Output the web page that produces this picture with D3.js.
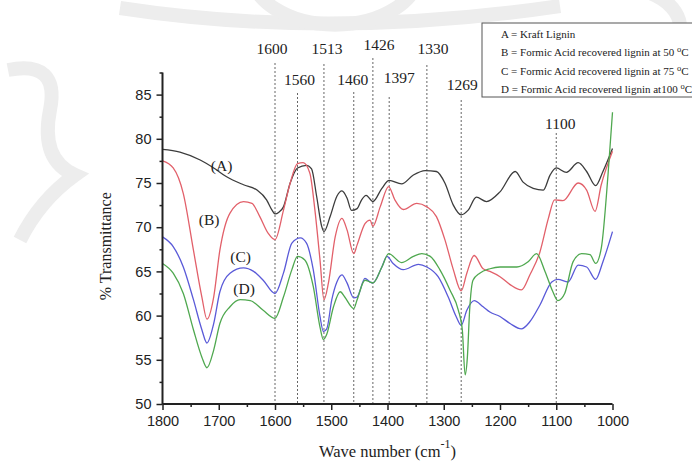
<!DOCTYPE html>
<html>
<head>
<meta charset="utf-8">
<script src="https://cdn.jsdelivr.net/npm/d3@7"></script>
<style>
  body { margin: 0; background: #fff; }
  svg { display: block; }
</style>
</head>
<body>
<div id="chart"></div>
<script>
// FTIR spectra, values: [wave number, % transmittance]
const kraftLignin = [
  [1800, 78.8], [1769, 78.5], [1733, 77.6], [1709, 76.7], [1686, 75.7], [1656, 74.8],
  [1632, 74.2], [1615, 73.1], [1605, 71.9], [1600, 71.5], [1593, 71.7], [1585, 72.3],
  [1573, 75.0], [1560, 76.7], [1544, 77.0], [1535, 76.6], [1526, 73.5], [1517, 70.1],
  [1513, 69.5], [1502, 71.2], [1490, 73.5], [1481, 74.1], [1472, 73.3], [1464, 71.9],
  [1454, 72.1], [1446, 73.1], [1438, 73.6], [1426, 72.9], [1410, 74.4], [1397, 75.3],
  [1375, 74.9], [1354, 75.9], [1333, 76.4], [1313, 76.3], [1298, 75.0], [1283, 72.5],
  [1269, 71.4], [1257, 71.9], [1242, 73.4], [1224, 72.9], [1200, 74.0], [1173, 76.3],
  [1159, 75.1], [1141, 74.4], [1123, 74.2], [1111, 75.9], [1100, 76.7], [1082, 76.2],
  [1061, 77.3], [1046, 76.3], [1030, 74.7], [1017, 76.3], [1000, 78.9]
];
const formic50 = [
  [1800, 77.5], [1781, 76.7], [1763, 73.8], [1745, 67.4], [1730, 62.1], [1721, 59.6],
  [1709, 62.1], [1698, 67.4], [1680, 71.6], [1656, 72.9], [1641, 72.7], [1627, 71.2],
  [1612, 69.3], [1600, 68.6], [1585, 71.9], [1573, 75.0], [1560, 77.2], [1550, 77.3],
  [1538, 76.1], [1529, 71.9], [1520, 66.3], [1513, 61.8], [1505, 63.7], [1493, 68.9],
  [1481, 71.0], [1472, 69.7], [1460, 67.0], [1454, 68.0], [1440, 70.4], [1431, 70.8],
  [1426, 70.1], [1413, 72.3], [1398, 74.6], [1387, 73.1], [1372, 72.0], [1348, 72.7],
  [1330, 72.3], [1313, 71.2], [1298, 68.6], [1283, 65.2], [1269, 62.8], [1259, 64.8],
  [1246, 66.8], [1230, 65.3], [1218, 65.0], [1200, 64.4], [1182, 63.5], [1162, 62.9],
  [1147, 64.6], [1129, 67.2], [1114, 71.0], [1103, 73.1], [1088, 73.0], [1061, 75.0],
  [1046, 74.2], [1031, 71.8], [1020, 74.8], [1000, 78.6]
];
const formic75 = [
  [1800, 68.9], [1781, 67.8], [1763, 65.5], [1745, 61.8], [1730, 58.4], [1721, 56.9],
  [1709, 59.1], [1698, 62.7], [1680, 64.8], [1656, 65.4], [1638, 65.0], [1621, 64.0],
  [1600, 62.5], [1585, 64.8], [1570, 68.2], [1555, 68.8], [1544, 68.2], [1532, 65.2],
  [1520, 59.9], [1514, 58.2], [1508, 58.5], [1499, 61.8], [1490, 63.8], [1481, 64.6],
  [1472, 63.7], [1460, 62.0], [1454, 62.1], [1440, 64.2], [1431, 63.8], [1426, 63.7],
  [1410, 65.5], [1401, 66.7], [1390, 65.9], [1372, 65.2], [1345, 65.8], [1330, 65.5],
  [1310, 64.4], [1292, 62.1], [1278, 59.9], [1269, 58.9], [1259, 60.6], [1246, 61.7],
  [1230, 61.0], [1218, 60.4], [1200, 59.9], [1182, 59.1], [1162, 58.5], [1147, 59.3],
  [1129, 61.2], [1108, 63.8], [1097, 64.1], [1079, 63.8], [1061, 65.7], [1046, 65.5],
  [1030, 64.1], [1017, 66.1], [1000, 69.5]
];
const formic100 = [
  [1800, 65.9], [1781, 64.8], [1763, 62.5], [1745, 58.4], [1730, 55.3], [1721, 54.1],
  [1709, 56.1], [1698, 59.1], [1680, 61.0], [1662, 61.8], [1644, 61.7], [1621, 60.6],
  [1600, 59.7], [1585, 62.1], [1570, 65.2], [1560, 66.7], [1547, 66.3], [1532, 63.3],
  [1520, 58.7], [1514, 57.3], [1508, 57.9], [1496, 61.0], [1484, 62.7], [1476, 62.1],
  [1460, 60.8], [1454, 61.8], [1440, 64.0], [1431, 63.8], [1426, 63.7], [1410, 65.5],
  [1398, 67.0], [1375, 66.0], [1354, 66.7], [1339, 67.0], [1324, 66.7], [1307, 65.2],
  [1289, 62.9], [1274, 60.6], [1267, 58.4], [1262, 53.3], [1258, 55.3], [1254, 60.6],
  [1248, 64.0], [1236, 64.8], [1218, 65.3], [1200, 65.5], [1170, 65.5], [1150, 66.1],
  [1135, 67.0], [1120, 65.0], [1106, 62.7], [1097, 61.7], [1085, 62.5], [1070, 66.1],
  [1055, 67.0], [1040, 66.9], [1030, 65.9], [1020, 67.6], [1008, 75.9], [1000, 83.0]
];

const seriesNames = ['(A)', '(B)', '(C)', '(D)'];
const legendLabels = [
  ['A = Kraft Lignin', null],
  ['B = Formic Acid recovered lignin at 50 ', 'C'],
  ['C = Formic Acid recovered lignin at 75 ', 'C'],
  ['D = Formic Acid recovered lignin at100 ', 'C']
];
const peakBands = [1600, 1560, 1513, 1460, 1426, 1397, 1330, 1269, 1100];
const xTicks = [1800, 1700, 1600, 1500, 1400, 1300, 1200, 1100, 1000];
const yTicks = [50, 55, 60, 65, 70, 75, 80, 85];

const WIDTH = 692;
const HEIGHT = 463;
const COLORS = ['#3c3c3c', '#e2606a', '#5a5ad8', '#4fa84f'];
const SERIF = '"Liberation Serif", "Times New Roman", serif';

const svg = d3.select('#chart').append('svg')
  .attr('width', WIDTH)
  .attr('height', HEIGHT);

// faint watermark behind the figure
const wm = svg.append('g')
  .attr('fill', 'none')
  .attr('stroke', '#ededed')
  .attr('stroke-width', 14);
wm.append('path').attr('d', 'M120,8 Q330,40 560,6');
wm.append('path').attr('d', 'M250,-30 A70,45 0 0,0 420,-30');
wm.append('path').attr('d', 'M8,70 Q60,60 50,110 Q40,160 75,175 Q40,200 20,240');
wm.append('path').attr('d', 'M600,-10 A60,40 0 0,1 680,30');

const x = d3.scaleLinear().domain([1800, 1000]).range([162.5, 612.5]);
const y = d3.scaleLinear().domain([50, 87.5]).range([404, 72.5]);

// peak label layout: where each band label sits (pixel baseline, small horizontal nudge)
const bandLabelLayout = {
  1600: {dy: 54, dx: -3, lineTop: 63},
  1560: {dy: 85, dx: 2, lineTop: 93},
  1513: {dy: 54, dx: 3, lineTop: 64},
  1460: {dy: 85, dx: -1, lineTop: 92},
  1426: {dy: 50, dx: 6, lineTop: 58},
  1397: {dy: 83, dx: 10, lineTop: 97},
  1330: {dy: 54, dx: 6, lineTop: 65},
  1269: {dy: 90, dx: 1, lineTop: 100},
  1100: {dy: 129, dx: 4, lineTop: 133}
};

// dotted band markers
const bands = svg.append('g');
peakBands.forEach(b => {
  const lay = bandLabelLayout[b];
  bands.append('line')
    .attr('x1', x(b)).attr('x2', x(b))
    .attr('y1', lay.lineTop).attr('y2', y(50))
    .attr('stroke', '#666')
    .attr('stroke-width', 1)
    .attr('stroke-dasharray', '2,2');
  bands.append('text')
    .attr('x', x(b) + lay.dx)
    .attr('y', lay.dy)
    .attr('text-anchor', 'middle')
    .attr('font-family', SERIF)
    .attr('font-size', 15.5)
    .attr('fill', '#222')
    .text(b);
});

// spectra
const line = d3.line()
  .x(d => x(d[0]))
  .y(d => y(d[1]))
  .curve(d3.curveMonotoneX);

[kraftLignin, formic50, formic75, formic100].forEach((s, i) => {
  svg.append('path')
    .datum(s)
    .attr('d', line)
    .attr('fill', 'none')
    .attr('stroke', COLORS[i])
    .attr('stroke-width', 1.3)
    .attr('stroke-linejoin', 'round');
});

// series tags placed in data space next to the curves
const tagAnchors = [[1695, 76.4], [1717, 70.3], [1661, 66.1], [1655, 62.4]];
seriesNames.forEach((n, i) => {
  svg.append('text')
    .attr('x', x(tagAnchors[i][0]))
    .attr('y', y(tagAnchors[i][1]))
    .attr('text-anchor', 'middle')
    .attr('font-family', SERIF)
    .attr('font-size', 15.5)
    .attr('fill', '#222')
    .text(n);
});

// axes
const xAxis = svg.append('g')
  .attr('transform', `translate(0,${y(50)})`)
  .call(d3.axisBottom(x).tickValues(xTicks).tickSize(6).tickPadding(6).tickFormat(d3.format('d')));
svg.append('g')
  .attr('transform', `translate(0,${y(50)})`)
  .call(d3.axisBottom(x).tickValues(d3.range(1750, 1000, -50).filter(v => v % 100)).tickSize(3).tickFormat(''))
  .call(g => g.select('.domain').remove());

const yAxis = svg.append('g')
  .attr('transform', `translate(${x(1800)},0)`)
  .call(d3.axisLeft(y).tickValues(yTicks).tickSize(6).tickPadding(5));
svg.append('g')
  .attr('transform', `translate(${x(1800)},0)`)
  .call(d3.axisLeft(y).tickValues(d3.range(52.5, 88, 5)).tickSize(3).tickFormat(''))
  .call(g => g.select('.domain').remove());

svg.selectAll('.domain').attr('stroke', '#222').attr('stroke-width', 2);
svg.selectAll('.tick line').attr('stroke', '#222').attr('stroke-width', 1.5);
svg.selectAll('.tick text')
  .attr('font-family', '"Liberation Sans", Arial, sans-serif')
  .attr('font-size', 14.5)
  .attr('fill', '#222');
// outer tick ends of the domain path are not wanted
xAxis.select('.domain').attr('d', `M${x(1800)},0H${x(1000)}`);
yAxis.select('.domain').attr('d', `M0,${y(87.5)}V${y(50)}`);

// axis titles
svg.append('text')
  .attr('transform', `translate(111,${(y(50) + y(87.5)) / 2 + 8}) rotate(-90)`)
  .attr('text-anchor', 'middle')
  .attr('font-family', SERIF)
  .attr('font-size', 16)
  .attr('fill', '#222')
  .text('% Transmittance');

const xt = svg.append('text')
  .attr('x', (x(1800) + x(1000)) / 2)
  .attr('y', 457)
  .attr('text-anchor', 'middle')
  .attr('font-family', SERIF)
  .attr('font-size', 16.5)
  .attr('fill', '#222');
xt.append('tspan').text('Wave number (cm');
xt.append('tspan').attr('dy', -9).attr('font-size', 12).text('-1');
xt.append('tspan').attr('dy', 9).text(')');

// legend box
const legend = svg.append('g');
legend.append('rect')
  .attr('x', 482).attr('y', 23)
  .attr('width', 230).attr('height', 74)
  .attr('fill', '#fff')
  .attr('stroke', '#555')
  .attr('stroke-width', 1);
legendLabels.forEach((l, i) => {
  const t = legend.append('text')
    .attr('x', 501)
    .attr('y', 38 + i * 18.3)
    .attr('font-family', SERIF)
    .attr('font-size', 11)
    .attr('fill', '#222');
  t.append('tspan').text(l[0]);
  if (l[1]) {
    t.append('tspan').attr('dy', -4).attr('font-size', 8.5).text('o');
    t.append('tspan').attr('dy', 4).text(l[1]);
  }
});
</script>
</body>
</html>
